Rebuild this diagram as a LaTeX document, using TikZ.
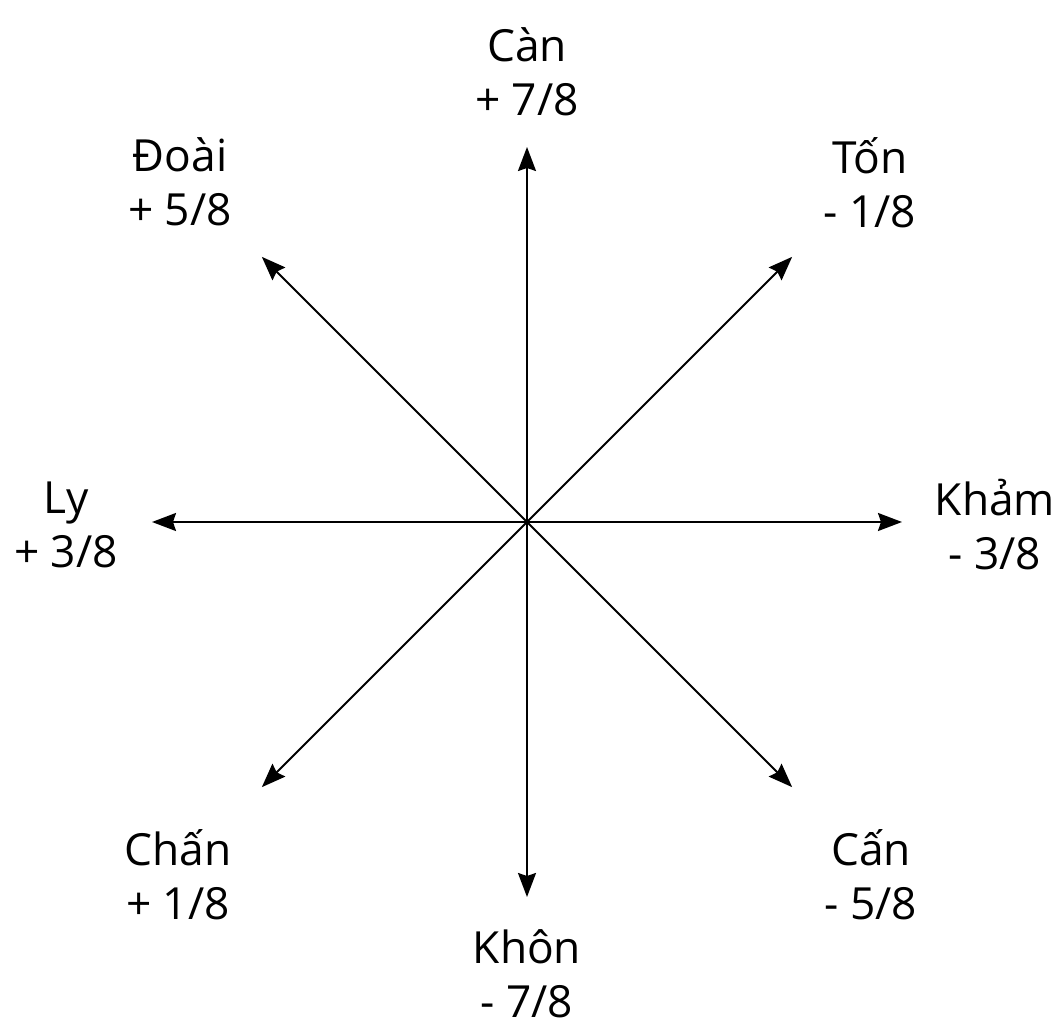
\documentclass[tikz,border=0pt]{standalone}
\usepackage{fontspec}
\setmainfont{Open Sans}
\usetikzlibrary{arrows.meta}
\tikzset{
  huong/.style={-{Stealth[length=0.24cm, width=0.18cm, inset=0.03cm]}, line width=0.55pt, black},
  nhan/.style={align=center, inner sep=0pt, font=\fontsize{12.6}{15.4}\selectfont}}

\begin{document}
\begin{tikzpicture}
\useasboundingbox (0,0) rectangle (10.56,10.24);
% centre and the eight arrow tips
\coordinate (o) at (5.27,5.02);
\foreach \ten/\goc in {can/90, ton/45, kham/0, cans/-45, khon/-90, chan/-135, ly/180, doai/135}
  \coordinate (\ten) at ([shift={(\goc:3.75)}]o);
\foreach \ten in {can, ton, kham, cans, khon, chan, ly, doai}
  \draw[huong] (o) -- (\ten);
% labels
\node[nhan] (lcan)  at (5.27,9.52) {Càn\\+ 7/8};
\node[nhan] (ldoai) at (1.80,8.42) {Đoài\\+ 5/8};
\node[nhan] (lton)  at (8.70,8.41) {Tốn\\- 1/8};
\node[nhan] (lly)   at (0.66,4.99) {Ly\\+ 3/8};
\node[nhan] (lkham) at (9.95,4.99) {Khảm\\- 3/8};
\node[nhan] (lchan) at (1.78,1.49) {Chấn\\+ 1/8};
\node[nhan] (lkhon) at (5.27,0.50) {Khôn\\- 7/8};
\node[nhan] (lcans) at (8.71,1.49) {Cấn\\- 5/8};
\end{tikzpicture}
\end{document}
